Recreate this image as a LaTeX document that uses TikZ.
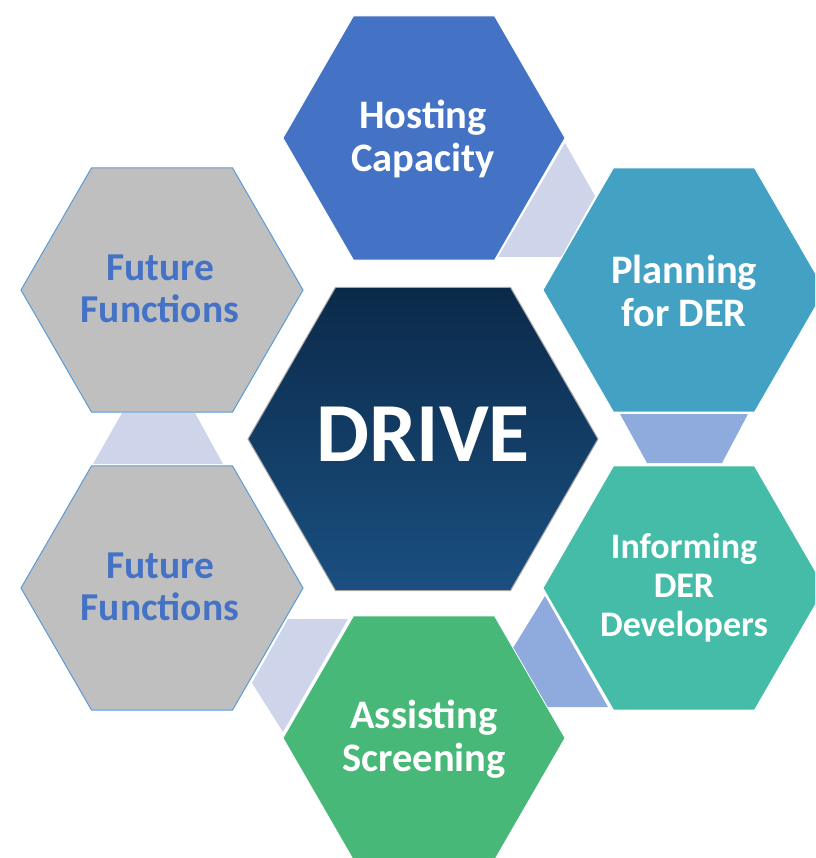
\documentclass[tikz,border=0pt]{standalone}
\usepackage{fontspec}
\setmainfont{Carlito}
\usetikzlibrary{shapes.geometric,calc}
\definecolor{hostc}{HTML}{4472C4}
\definecolor{planc}{HTML}{43A2C3}
\definecolor{infoc}{HTML}{44BCA7}
\definecolor{assic}{HTML}{47B878}
\definecolor{grayc}{HTML}{BFBFBF}
\definecolor{outlc}{HTML}{5B9BD5}
\definecolor{lightc}{HTML}{CED5EA}
\definecolor{medc}{HTML}{8FAADC}
\definecolor{drvtop}{HTML}{0B2A4A}
\definecolor{drvbot}{HTML}{1A4F80}
\definecolor{fftext}{HTML}{4472C4}
\begin{document}
\begin{tikzpicture}[x=1pt,y=-1pt,
  hexn/.style={regular polygon, regular polygon sides=6, minimum size=282pt,
    inner sep=0pt, outer sep=0pt, draw=white, line width=0.8pt},
  grayhex/.style={hexn, fill=grayc, draw=outlc, line width=1pt},
  lightconn/.style={fill=lightc},
  medconn/.style={fill=medc},
  lbl/.style={text=white, font=\bfseries\fontsize{40.5}{43}\selectfont,
    align=center, inner sep=0pt},
  fflbl/.style={lbl, text=fftext, font=\bfseries\fontsize{39.5}{42}\selectfont},
]
\useasboundingbox (0,0) rectangle (815,858);
\clip (0,0) rectangle (815,858);

% connector shapes between neighbouring hexagons
\coordinate (c1a) at (565,143);
\coordinate (c1b) at (595,196);
\coordinate (c1c) at (561,257);
\coordinate (c1d) at (498,257);
\fill[lightconn] (c1a) -- (c1b) -- (c1c) -- (c1d) -- cycle;

\coordinate (c2a) at (620,414);
\coordinate (c2b) at (748,414);
\coordinate (c2c) at (722,463);
\coordinate (c2d) at (647,463);
\fill[medconn] (c2a) -- (c2b) -- (c2c) -- (c2d) -- cycle;

\coordinate (c3a) at (545,596);
\coordinate (c3b) at (608,707);
\coordinate (c3c) at (546,707);
\coordinate (c3d) at (513,648);
\fill[medconn] (c3a) -- (c3b) -- (c3c) -- (c3d) -- cycle;

\coordinate (c4a) at (288,619);
\coordinate (c4b) at (348,619);
\coordinate (c4c) at (283,732);
\coordinate (c4d) at (252,683);
\fill[lightconn] (c4a) -- (c4b) -- (c4c) -- (c4d) -- cycle;

\coordinate (c5a) at (122,413);
\coordinate (c5b) at (195,413);
\coordinate (c5c) at (223,464);
\coordinate (c5d) at (93,464);
\fill[lightconn] (c5a) -- (c5b) -- (c5c) -- (c5d) -- cycle;

% hexagons
\node[hexn, fill=hostc] (host) at (424,138) {};
\node[hexn, fill=planc] (plan) at (684,290) {};
\node[hexn, fill=infoc] (info) at (684,588) {};
\node[hexn, fill=assic] (assi) at (424,738) {};
\node[grayhex] (ffb) at (162,588) {};
\node[grayhex] (fft) at (162,290) {};
\node[hexn, minimum size=350pt, top color=drvtop, bottom color=drvbot,
  draw=gray!70, line width=1pt] (drive) at (423,439) {};

% labels
\node[lbl] (hostl) at (423,139) {Hosting\\Capacity};
\node[lbl] (planl) at (684,291) {Planning\\for DER};
\node[lbl, font=\bfseries\fontsize{36}{39}\selectfont] (infol) at (684,588) {Informing\\DER\\Developers};
\node[lbl] (assil) at (424,739) {Assisting\\Screening};
\node[fflbl] (fftl) at (160,289) {Future\\Functions};
\node[fflbl] (ffbl) at (160,587) {Future\\Functions};
\node[lbl, font=\bfseries\fontsize{84}{90}\selectfont] (drivel) at (423,434) {DRIVE};
\end{tikzpicture}
\end{document}
